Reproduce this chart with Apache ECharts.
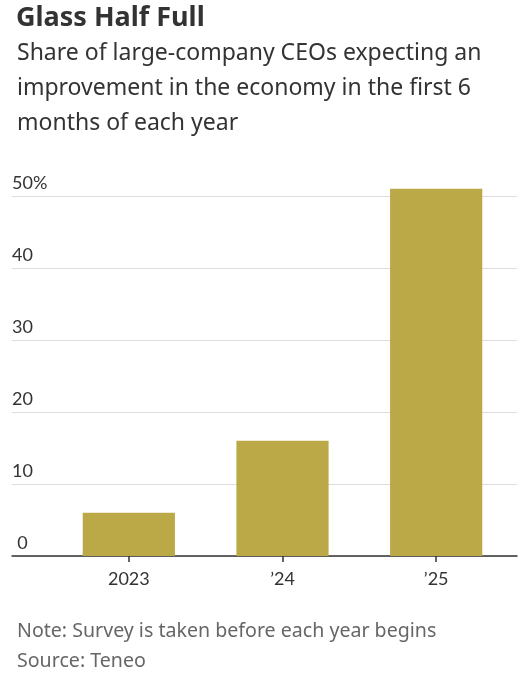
<!DOCTYPE html>
<html>
<head>
    <meta charset="utf-8">
    <title>Glass Half Full</title>
    <script type="text/javascript" src="https://cdn.jsdelivr.net/npm/echarts@6/dist/echarts.min.js"></script>
    <style>
        html, body { margin: 0; padding: 0; background: #fff; }
    </style>
</head>
<body>

<div id="main" style="width: 520px;height:680px;"></div>
<script type="text/javascript">
    // data
    var years = ['2023', '\u201924', '\u201925'];
    var shares = [6, 16, 51];
    var yTicks = [0, 10, 20, 30, 40, 50];

    var font = 'Noto Sans';
    var axisFont = 'Lato';
    var myChart = echarts.init(document.getElementById('main'));

    var option = {
        backgroundColor: '#fff',
        title: [{
            text: 'Glass Half Full',
            left: 11,
            top: 0,
            textStyle: { fontFamily: font, fontSize: 27, fontWeight: 'bold', color: '#333' }
        }, {
            text: 'Share of large-company CEOs expecting an\nimprovement in the economy in the first 6\nmonths of each year',
            left: 12,
            top: 31,
            textStyle: { fontFamily: font, fontSize: 23, fontWeight: 'normal', color: '#333', lineHeight: 35 }
        }, {
            text: 'Note: Survey is taken before each year begins\nSource: Teneo',
            left: 12,
            top: 611,
            textStyle: { fontFamily: font, fontSize: 19.6, fontWeight: 'normal', color: '#666', lineHeight: 30 }
        }],
        grid: [
            { left: 12, right: 3, top: 196, bottom: 124 },
            { left: 52, right: 7, top: 196, bottom: 124 }
        ],
        xAxis: [{
            // base line across the full width
            gridIndex: 0,
            type: 'value',
            min: 0,
            max: 1,
            axisLine: { show: true, onZero: false, lineStyle: { color: '#333', width: 1.5 } },
            axisTick: { show: false },
            axisLabel: { show: false },
            splitLine: { show: false }
        }, {
            gridIndex: 1,
            type: 'category',
            data: years,
            axisLine: { show: false },
            axisTick: { show: true, alignWithLabel: true, length: 6, lineStyle: { color: '#333', width: 1.5 } },
            axisLabel: { fontFamily: axisFont, fontSize: 18, color: '#333', margin: 14 }
        }],
        yAxis: [{
            gridIndex: 0,
            type: 'value',
            min: 0,
            max: 50,
            interval: 10,
            axisLine: { show: false },
            axisTick: { show: false },
            splitLine: { lineStyle: { color: '#dddddd', width: 1 } },
            axisLabel: {
                inside: true,
                margin: 0,
                align: 'left',
                verticalAlign: 'bottom',
                padding: [0, 0, 4, 0],
                formatter: function (v) {
                    if (yTicks.indexOf(v) < 0) return '';
                    return '{n|' + v + '}' + (v === 50 ? '{p|%}' : '{h|%}');
                },
                rich: {
                    n: { fontFamily: axisFont, fontSize: 18, color: '#333', width: 21, align: 'right' },
                    p: { fontFamily: axisFont, fontSize: 18, color: '#333' },
                    h: { fontFamily: axisFont, fontSize: 18, color: 'rgba(0,0,0,0)' }
                }
            }
        }, {
            gridIndex: 1,
            type: 'value',
            min: 0,
            max: 50,
            show: false,
            splitLine: { show: false }
        }],
        series: [{
            name: 'Share',
            type: 'bar',
            xAxisIndex: 1,
            yAxisIndex: 1,
            data: shares,
            barWidth: '60%',
            clip: false,
            itemStyle: { color: '#bba846' },
            silent: true
        }]
    };

    myChart.setOption(option);
</script>

</body>
</html>
